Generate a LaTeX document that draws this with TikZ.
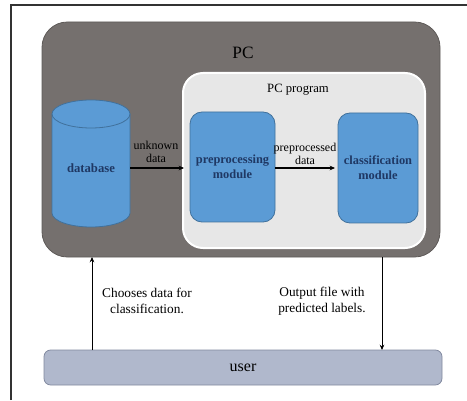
\documentclass[tikz,border=0pt]{standalone}
\usepackage{fontspec}
\setmainfont{Liberation Serif}
\usetikzlibrary{arrows.meta}
\definecolor{pcgrey}{RGB}{117,112,110}
\definecolor{progfill}{RGB}{231,231,231}
\definecolor{modfill}{RGB}{91,155,213}
\definecolor{moddraw}{RGB}{65,113,156}
\definecolor{navy}{RGB}{31,56,100}
\definecolor{userfill}{RGB}{176,184,204}
\definecolor{userdraw}{RGB}{128,136,158}
\tikzset{
  modbox/.style={draw=moddraw, fill=modfill, rounded corners=9pt, line width=0.6pt,
    minimum width=85*0.75pt, minimum height=110*0.75pt, text=navy, align=center,
    font=\fontsize{9.3}{11}\selectfont\bfseries},
  flowarrow/.style={-{Stealth[length=4pt,width=3.5pt]}, line width=0.9pt, black},
  thinarrow/.style={-{Stealth[length=4pt,width=3.5pt]}, line width=0.6pt, black},
  smalllbl/.style={font=\fontsize{9}{9.5}\selectfont, align=center, inner sep=0pt},
  botlbl/.style={font=\fontsize{10}{12}\selectfont, align=center, inner sep=0pt}
}
\begin{document}
\begin{tikzpicture}[x=0.75pt,y=0.75pt]
\useasboundingbox (0,0) rectangle (467,400);
% frame lines
\draw[line width=1pt, black!80] (11,0) -- (11,395) -- (467,395);
% PC box
\node[draw=pcgrey!80!black, fill=pcgrey, rounded corners=19pt, line width=0.6pt,
  minimum width=398*0.75pt, minimum height=235*0.75pt, inner sep=0pt] (pc) at (241,260.5) {};
\node[font=\fontsize{13}{15}\selectfont] (pclbl) at (243,347) {PC};
% PC program box
\node[draw=white, fill=progfill, rounded corners=15pt, line width=1.5pt,
  minimum width=242*0.75pt, minimum height=175*0.75pt, inner sep=0pt] (prog) at (304,239.5) {};
\node[font=\fontsize{9.5}{11}\selectfont] (proglbl) at (298,310) {PC program};
% database cylinder
\fill[modfill] (52,286) -- (52,187) arc[start angle=180, end angle=360, x radius=39, y radius=14]
  -- (130,286) arc[start angle=0, end angle=180, x radius=39, y radius=14] -- cycle;
\draw[moddraw, line width=0.6pt] (52,286) -- (52,187) arc[start angle=180, end angle=360, x radius=39, y radius=14]
  -- (130,286);
\draw[moddraw, line width=0.6pt] (91,286) ellipse[x radius=39, y radius=14];
\node[text=navy, font=\fontsize{9.5}{11}\selectfont\bfseries, minimum width=78*0.75pt, inner sep=0pt] (db) at (91,232) {database};
% modules
\node[modbox] (pre) at (232.5,233) {preprocessing\\module};
\node[modbox, minimum width=80*0.75pt] (cls) at (378,232) {classification\\module};
\coordinate (dbR) at (130,232);
\coordinate (preIn) at (184,232);
\coordinate (clsIn) at (335,232);
\draw[flowarrow] (dbR) -- (preIn);
\draw[flowarrow] (pre.east |- dbR) -- (clsIn);
\node[smalllbl] (ul) at (156,248) {unknown\\data};
\node[smalllbl] (pl) at (305,246) {preprocessed\\data};
% user box
\node[draw=userdraw, fill=userfill, rounded corners=5pt, line width=0.6pt,
  minimum width=398*0.75pt, minimum height=35*0.75pt, inner sep=0pt,
  font=\fontsize{12}{14}\selectfont] (user) at (243,32.5) {user};
\coordinate (upBot) at (92,50);
\coordinate (upTop) at (92,143);
\coordinate (dnTop) at (382,143);
\coordinate (dnBot) at (382,50);
\draw[thinarrow] (upBot) -- (upTop);
\draw[thinarrow] (dnTop) -- (dnBot);
\node[botlbl] (cl) at (147,99) {Chooses data for\\classification.};
\node[botlbl] (ol) at (322,99) {Output file with\\predicted labels.};
\end{tikzpicture}
\end{document}
